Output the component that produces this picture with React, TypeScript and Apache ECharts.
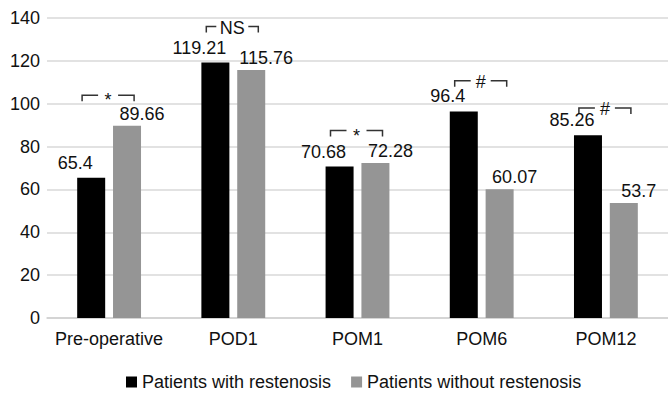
import React, { useEffect, useRef } from "react";
import * as echarts from "echarts";

const categories = ["Pre-operative", "POD1", "POM1", "POM6", "POM12"];
const withRestenosis = [65.4, 119.21, 70.68, 96.4, 85.26];
const withoutRestenosis = [89.66, 115.76, 72.28, 60.07, 53.7];
const seriesNames = ["Patients with restenosis", "Patients without restenosis"];
const yTicks = { min: 0, max: 140, interval: 20 };
// significance brackets: category index, height (value units), symbol
const bracketCats = [0, 1, 2, 3, 4];
const bracketHeights = [104, 136, 87.5, 110.7, 98];
const bracketSymbols = ["*", "NS", "*", "#", "#"];

const FONT = "'Liberation Sans', Arial, sans-serif";

export default function App() {
  const ref = useRef<HTMLDivElement>(null);
  useEffect(() => {
    if (!ref.current) return;
    const chart = echarts.init(ref.current, undefined, { renderer: "svg" });
    chart.setOption({
      animation: false,
      textStyle: { fontFamily: FONT },
      grid: { left: 47, top: 18, width: 624, bottom: 75, containLabel: false },
      legend: {
        left: 126,
        top: 373,
        itemWidth: 11,
        itemHeight: 11,
        itemGap: 20,
        icon: "rect",
        padding: 0,
        textStyle: { fontSize: 18, color: "#111", fontFamily: FONT },
        data: seriesNames,
      },
      xAxis: {
        type: "category",
        data: categories,
        axisTick: { show: false },
        axisLine: { lineStyle: { color: "#d0d0d0", width: 1.5 } },
        axisLabel: { fontSize: 18, color: "#111", margin: 12, interval: 0, fontFamily: FONT },
      },
      yAxis: {
        type: "value",
        min: yTicks.min,
        max: yTicks.max,
        interval: yTicks.interval,
        axisLine: { show: false },
        axisTick: { show: false },
        splitLine: { lineStyle: { color: "#d9d9d9", width: 1.5 } },
        axisLabel: { fontSize: 18, color: "#111", margin: 7, fontFamily: FONT },
      },
      series: [
        {
          name: seriesNames[0],
          type: "bar",
          data: withRestenosis,
          barWidth: 28,
          barGap: "28%",
          itemStyle: { color: "#000000" },
          label: {
            show: true,
            position: "top",
            distance: 6,
            offset: [-16, 0],
            fontSize: 18,
            color: "#111",
            fontFamily: FONT,
          },
        },
        {
          name: seriesNames[1],
          type: "bar",
          data: withoutRestenosis,
          barWidth: 28,
          itemStyle: { color: "#959595" },
          label: {
            show: true,
            position: "top",
            distance: 5,
            offset: [15, 2],
            fontSize: 18,
            color: "#111",
            fontFamily: FONT,
          },
        },
      ],
    });

    const graphics: any[] = [];
    bracketCats.forEach((ci, i) => {
      const p = chart.convertToPixel({ gridIndex: 0 }, [ci, bracketHeights[i]]) as number[];
      if (!p) return;
      const [cx, y] = p;
      const sym = bracketSymbols[i];
      const x1 = cx - 27;
      const x2 = cx + 25;
      const xc = (x1 + x2) / 2;
      const half = sym.length * 6 + 4;
      const tick = 6;
      const ls = { stroke: "#333", lineWidth: 1.5, fill: null };
      graphics.push({
        type: "polyline",
        shape: { points: [[x1, y + tick], [x1, y], [xc - half, y]] },
        style: ls,
      });
      graphics.push({
        type: "polyline",
        shape: { points: [[xc + half, y], [x2, y], [x2, y + tick]] },
        style: ls,
      });
      graphics.push({
        type: "text",
        x: xc,
        y: y + (sym === "*" ? 5 : 1),
        style: {
          text: sym,
          fontSize: 18,
          fontFamily: FONT,
          fill: "#111",
          align: "center",
          verticalAlign: "middle",
        },
      });
    });
    chart.setOption({ graphic: graphics });

    return () => chart.dispose();
  }, []);
  return (
    <div
      ref={ref}
      style={{ position: "fixed", left: 0, top: 0, width: 668, height: 393, background: "#fff" }}
    />
  );
}
